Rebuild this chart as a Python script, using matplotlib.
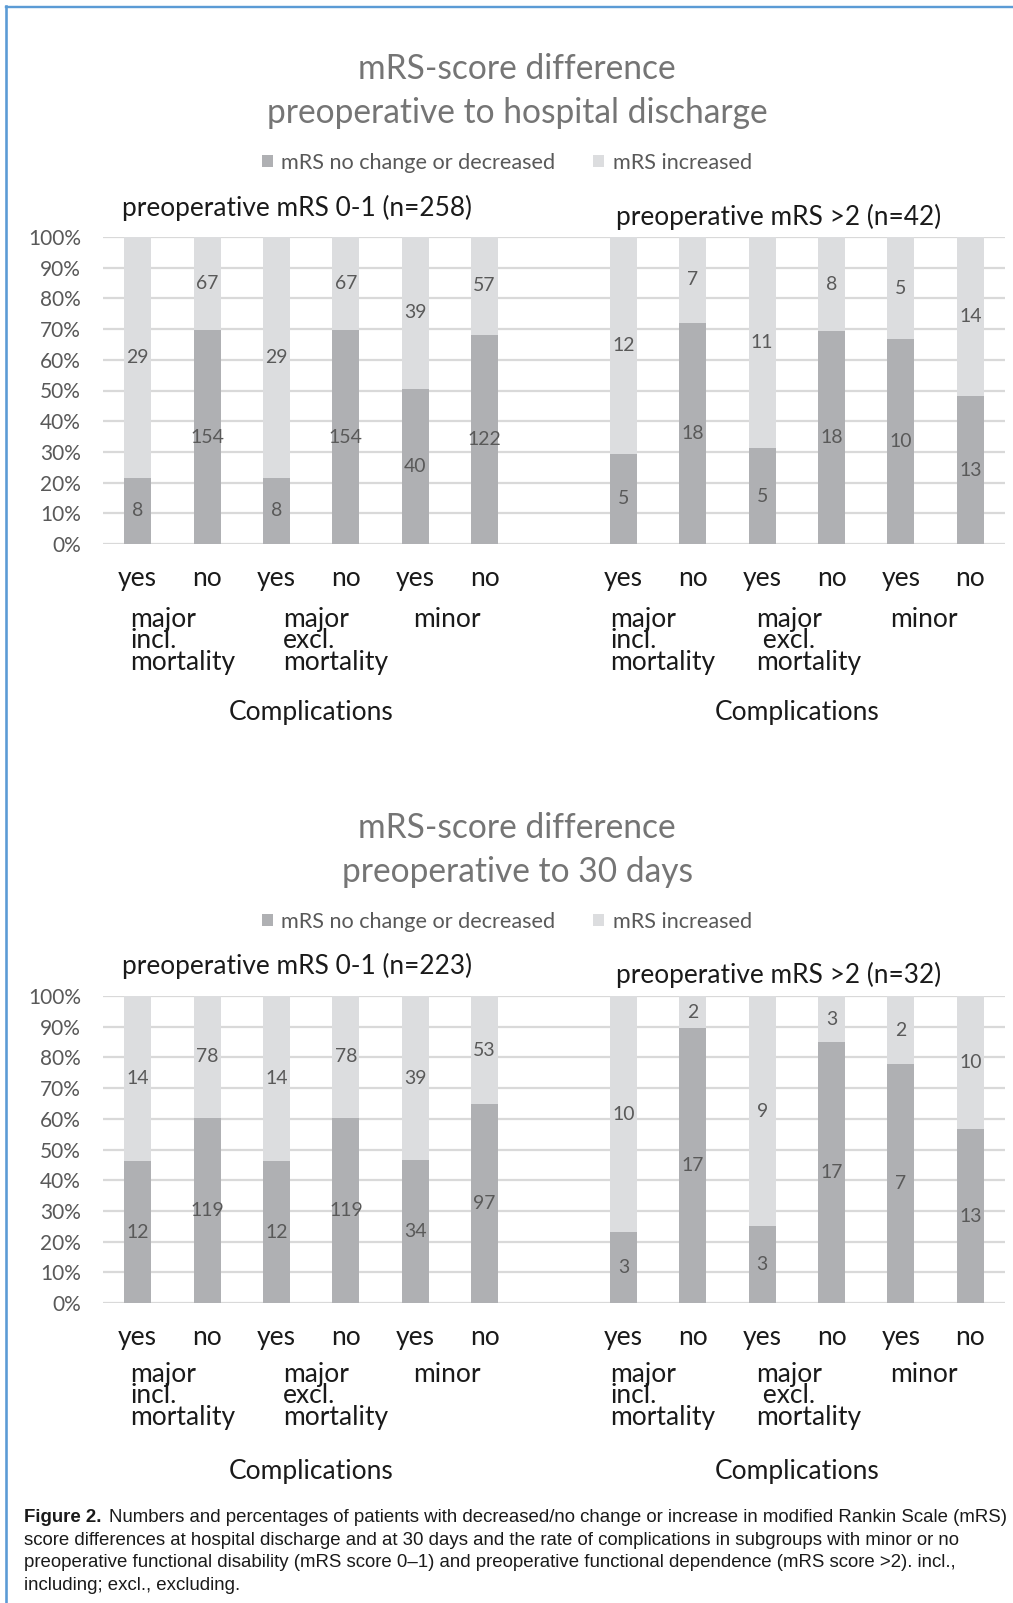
import matplotlib
matplotlib.use("Agg")
import matplotlib.pyplot as plt
from matplotlib import font_manager as fm
from matplotlib.patches import Patch
from matplotlib.lines import Line2D
import matplotlib.transforms as mtransforms
import numpy as np

# ---------------- data ----------------
complication_answers = ["yes", "no", "yes", "no", "yes", "no"]
complication_groups_left = ["major\nincl.\nmortality",
                            "major\nexcl.\nmortality",
                            "minor"]
complication_groups_right = ["major\nincl.\nmortality",
                             "major\n excl.\nmortality",
                             "minor"]
axis_group_title = "Complications"
series_names = ["mRS no change or decreased", "mRS increased"]
y_ticks = [0, 10, 20, 30, 40, 50, 60, 70, 80, 90, 100]
y_tick_labels = [f"{v}%" for v in y_ticks]

panel_titles = [["mRS-score difference", "preoperative to hospital discharge"],
                ["mRS-score difference", "preoperative to 30 days"]]
subgroup_left = ["preoperative mRS 0-1 (n=258)", "preoperative mRS 0-1 (n=223)"]
subgroup_right = ["preoperative mRS >2 (n=42)", "preoperative mRS >2 (n=32)"]

# hospital discharge
discharge_mrs01_no_change = [8, 154, 8, 154, 40, 122]
discharge_mrs01_increased = [29, 67, 29, 67, 39, 57]
discharge_mrs2_no_change = [5, 18, 5, 18, 10, 13]
discharge_mrs2_increased = [12, 7, 11, 8, 5, 14]
# 30 days
days30_mrs01_no_change = [12, 119, 12, 119, 34, 97]
days30_mrs01_increased = [14, 78, 14, 78, 39, 53]
days30_mrs2_no_change = [3, 17, 3, 17, 7, 13]
days30_mrs2_increased = [10, 2, 9, 3, 2, 10]

caption_bold = "Figure 2."
caption_lines = [
    "Numbers and percentages of patients with decreased/no change or increase in modified Rankin Scale (mRS)",
    "score differences at hospital discharge and at 30 days and the rate of complications in subgroups with minor or no",
    "preoperative functional disability (mRS score 0\u20131) and preoperative functional dependence (mRS score >2). incl.,",
    "including; excl., excluding.",
]

# ---------------- style / layout ----------------
W, H, DPI = 1013, 1603, 100
DARK = "#afb0b3"
LIGHT = "#dcdddf"
GRID = "#d9d9d9"
TXT = "#595959"
TITLE = "#757575"
BLACK = "#1a1a1a"
BLUE = "#5b9bd5"
BODY = "Lato"
names = {f.name for f in fm.fontManager.ttflist}
CAP = "Liberation Sans Narrow" if "Liberation Sans Narrow" in names else "Liberation Sans"

fig = plt.figure(figsize=(W / DPI, H / DPI), dpi=DPI)
fig.patch.set_facecolor("white")
renderer = fig.canvas.get_renderer()


def fx(px):
    return px / W


def fy(px):
    return 1 - px / H


def extent_of(s, size, family=BODY, weight="normal", **kw):
    t = fig.text(0.5, 0.5, s, fontsize=size, family=family, weight=weight, **kw)
    e = t.get_window_extent(renderer)
    t.remove()
    return e


def size_for(s, target, family=BODY, weight="normal"):
    return 10 * target / extent_of(s, 10, family, weight).width


fs_title = size_for("preoperative to hospital discharge", 503)
fs_legend = size_for("mRS no change or decreased", 274)
fs_sub = size_for("preoperative mRS 0-1 (n=258)", 350)
fs_ytick = size_for("100%", 53)
fs_bar = size_for("154", 34)
fs_cat = size_for("Complications", 165)
# caption size
_cap_w = (extent_of(caption_bold, 10, CAP, "bold").width
          + extent_of(caption_lines[0], 10, CAP).width) / 10
fs_cap = 1.025 * (966 - 7) / _cap_w

# calibrate line spacing of stacked category labels to ~20.5 px between baselines
_fp = fm.FontProperties(family=BODY, size=fs_cat)
_w, _h, _d = renderer.get_text_width_height_descent("lp", _fp, ismath=False)
cat_ascent = _h - _d
_ls0 = 1.0
_h1 = extent_of("incl.", fs_cat, linespacing=_ls0).height
_h3 = extent_of("incl.\nincl.\nincl.", fs_cat, linespacing=_ls0).height
_dist0 = (_h3 - _h1) / 2.0
cat_linespacing = _ls0 * 20.5 / _dist0

PT = 72 / DPI  # points per pixel
panel_offset = 759
group_x_left = [-0.11, 2.09, 3.97]
group_x_right = [6.81, 8.91, 10.84]
group_first_baseline = [627, 623]
legend_center = [163, 163]
sub_left_base = [216, 215]
sub_right_base = [225, 224]

panels = [
    (discharge_mrs01_no_change, discharge_mrs01_increased,
     discharge_mrs2_no_change, discharge_mrs2_increased),
    (days30_mrs01_no_change, days30_mrs01_increased,
     days30_mrs2_no_change, days30_mrs2_increased),
]

x_left = np.arange(6)
x_right = np.arange(7, 13)
x_all = np.concatenate([x_left, x_right])

for p, (l_dec, l_inc, r_dec, r_inc) in enumerate(panels):
    off = p * panel_offset
    ax = fig.add_axes([fx(103), fy(544 + off), fx(1005 - 103), (544 - 237) / H])
    dec = np.array(l_dec + r_dec, dtype=float)
    inc = np.array(l_inc + r_inc, dtype=float)
    pct_dec = dec / (dec + inc) * 100
    pct_inc = 100 - pct_dec
    b1 = ax.bar(x_all, pct_dec, width=0.39, color=DARK, zorder=2)
    b2 = ax.bar(x_all, pct_inc, bottom=pct_dec, width=0.39, color=LIGHT, zorder=2)
    ax.bar_label(b1, labels=[str(int(v)) for v in dec], label_type="center",
                 fontsize=fs_bar, color=TXT, family=BODY)
    ax.bar_label(b2, labels=[str(int(v)) for v in inc], label_type="center",
                 fontsize=fs_bar, color=TXT, family=BODY)
    ax.set_xlim(-0.5, 12.5)
    ax.set_ylim(0, 100)
    ax.set_yticks(y_ticks, y_tick_labels)
    ax.yaxis.grid(True, color=GRID, lw=1.6, zorder=0)
    ax.set_axisbelow(True)
    for s in ax.spines.values():
        s.set_visible(False)
    ax.tick_params(axis="y", length=0, pad=22 * PT, labelsize=fs_ytick, labelcolor=TXT)
    for lab in ax.get_yticklabels():
        lab.set_family(BODY)
    ax.set_xticks(x_all, complication_answers * 2, va="baseline")
    ax.tick_params(axis="x", length=0, pad=42 * PT, labelsize=fs_cat, labelcolor=BLACK)
    for lab in ax.get_xticklabels():
        lab.set_family(BODY)

    trans = mtransforms.blended_transform_factory(ax.transData, fig.transFigure)
    for gx, label in zip(group_x_left + group_x_right,
                         complication_groups_left + complication_groups_right):
        ax.text(gx, fy(group_first_baseline[p] + off - cat_ascent), label,
                transform=trans, ha="left", va="top", multialignment="left",
                linespacing=cat_linespacing, fontsize=fs_cat, color=BLACK, family=BODY)
    for cx in (x_left.mean(), x_right.mean()):
        ax.text(cx, fy(720 + off), axis_group_title, transform=trans,
                ha="center", va="baseline", fontsize=fs_cat, color=BLACK, family=BODY)

    # titles
    fig.text(fx(517), fy(79 + off), panel_titles[p][0], ha="center", va="baseline",
             fontsize=fs_title, color=TITLE, family=BODY)
    fig.text(fx(517), fy(123 + off), panel_titles[p][1], ha="center", va="baseline",
             fontsize=fs_title, color=TITLE, family=BODY)
    # legend
    fig.legend(handles=[Patch(facecolor=DARK, edgecolor="none"),
                        Patch(facecolor=LIGHT, edgecolor="none")],
               labels=series_names, loc="center",
               bbox_to_anchor=(fx(507), fy(legend_center[p] + off)), ncol=2, frameon=False,
               prop={"family": BODY, "size": fs_legend}, labelcolor=TXT,
               handlelength=0.5, handleheight=0.5, handletextpad=0.4,
               columnspacing=1.75, borderpad=0, borderaxespad=0)
    # subgroup titles
    fig.text(fx(297), fy(sub_left_base[p] + off), subgroup_left[p], ha="center",
             va="baseline", fontsize=fs_sub, color=BLACK, family=BODY)
    fig.text(fx(779), fy(sub_right_base[p] + off), subgroup_right[p], ha="center",
             va="baseline", fontsize=fs_sub, color=BLACK, family=BODY)

# caption
cap_baselines = [1522, 1545, 1567, 1590]
tb = fig.text(fx(24), fy(cap_baselines[0]), caption_bold, ha="left", va="baseline",
              fontsize=fs_cap, weight="bold", family=CAP, color="#1a1a1a")
bw = tb.get_window_extent(renderer).x1
fig.text((bw + 7) / W, fy(cap_baselines[0]), caption_lines[0], ha="left", va="baseline",
         fontsize=fs_cap, family=CAP, color="#1a1a1a")
for k in range(1, 4):
    fig.text(fx(24), fy(cap_baselines[k]), caption_lines[k], ha="left", va="baseline",
             fontsize=fs_cap, family=CAP, color="#1a1a1a")

# blue frame (top and left)
fig.add_artist(Line2D([fx(6), 1], [fy(7), fy(7)], color=BLUE, lw=2.4 * PT))
fig.add_artist(Line2D([fx(6), fx(6)], [fy(6), 0], color=BLUE, lw=2.6 * PT))

fig.savefig("out.png", dpi=DPI)
